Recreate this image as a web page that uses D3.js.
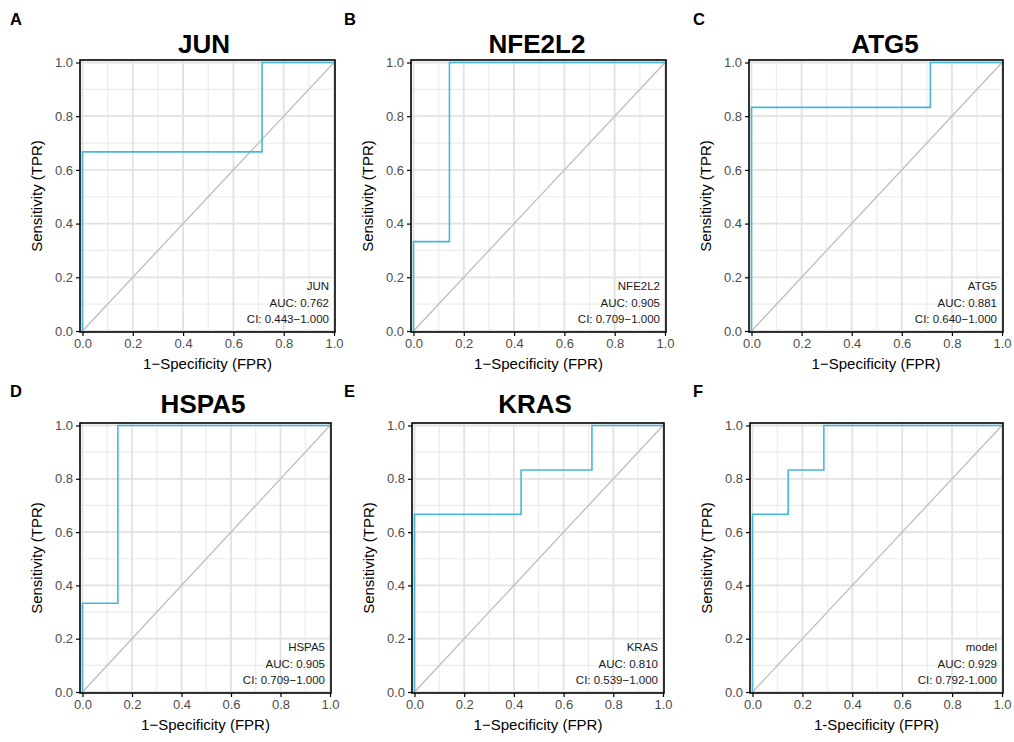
<!DOCTYPE html>
<html>
<head>
<meta charset="utf-8">
<script src="https://cdn.jsdelivr.net/npm/d3@7"></script>
<style>
  body { margin: 0; background: #fff; }
  svg { font-family: "Liberation Sans", Arial, sans-serif; }
  .grid-major { stroke: #e2e2e2; stroke-width: 1.8; }
  .grid-minor { stroke: #ececec; stroke-width: 1.2; }
  .roc { fill: none; stroke: #45b8da; stroke-width: 1.6; }
  .diag { stroke: #bdbdbd; stroke-width: 1.3; }
  .axis text { font-size: 13px; fill: #4d4d4d; }
  .axis path, .axis line { stroke: #000; stroke-width: 1.2; }
</style>
</head>
<body>
<svg id="graph" width="1014" height="742"></svg>
<script>
// panel names, letters, ROC points, AUC text
var letters = ["A", "B", "C", "D", "E", "F"]
var titles = ["JUN", "NFE2L2", "ATG5", "HSPA5", "KRAS", ""]
var legendNames = ["JUN", "NFE2L2", "ATG5", "HSPA5", "KRAS", "model"]
var aucs = ["0.762", "0.905", "0.881", "0.905", "0.810", "0.929"]
var cis = ["0.443\u22121.000", "0.709\u22121.000", "0.640\u22121.000", "0.709\u22121.000", "0.539\u22121.000", "0.792-1.000"]
var xTitles = ["1\u2212Specificity (FPR)", "1\u2212Specificity (FPR)", "1\u2212Specificity (FPR)",
               "1\u2212Specificity (FPR)", "1\u2212Specificity (FPR)", "1-Specificity (FPR)"]

var fprJUN = [0, 0, 0.714, 0.714, 1]
var tprJUN = [0, 0.667, 0.667, 1, 1]
var fprNFE2L2 = [0, 0, 0.143, 0.143, 1]
var tprNFE2L2 = [0, 0.333, 0.333, 1, 1]
var fprATG5 = [0, 0, 0.714, 0.714, 1]
var tprATG5 = [0, 0.833, 0.833, 1, 1]
var fprHSPA5 = [0, 0, 0.143, 0.143, 1]
var tprHSPA5 = [0, 0.333, 0.333, 1, 1]
var fprKRAS = [0, 0, 0.429, 0.429, 0.714, 0.714, 1]
var tprKRAS = [0, 0.667, 0.667, 0.833, 0.833, 1, 1]
var fprModel = [0, 0, 0.143, 0.143, 0.286, 0.286, 1]
var tprModel = [0, 0.667, 0.667, 0.833, 0.833, 1, 1]

var fprs = [fprJUN, fprNFE2L2, fprATG5, fprHSPA5, fprKRAS, fprModel]
var tprs = [tprJUN, tprNFE2L2, tprATG5, tprHSPA5, tprKRAS, tprModel]

var ticks = [0, 0.2, 0.4, 0.6, 0.8, 1.0]
var minorTicks = [0.1, 0.3, 0.5, 0.7, 0.9]

// panel frames (border boxes) and label / title positions
var frames = [
    { x0: 80, x1: 335, y0: 60, y1: 332, lx: 10, ly: 25, tx: 204, ty: 53 },
    { x0: 411, x1: 666, y0: 60, y1: 332, lx: 344, ly: 25, tx: 537, ty: 53 },
    { x0: 749, x1: 1003, y0: 60, y1: 332, lx: 693, ly: 25, tx: 885, ty: 53 },
    { x0: 80, x1: 331, y0: 423, y1: 693, lx: 10, ly: 397, tx: 203, ty: 413 },
    { x0: 412, x1: 664, y0: 423, y1: 693, lx: 344, ly: 397, tx: 535, ty: 413 },
    { x0: 750, x1: 1003, y0: 423, y1: 693, lx: 693, ly: 397, tx: 877, ty: 413 }
]
var pad = 2.5

var svg = d3.select("#graph")

frames.forEach((f, i) => {
    var xScale = d3.scaleLinear().domain([0, 1]).range([f.x0 + pad, f.x1 - 1])
    var yScale = d3.scaleLinear().domain([0, 1]).range([f.y1 - 1, f.y0 + pad])
    var g = svg.append("g")

    // grid
    g.selectAll(".vminor").data(minorTicks).enter().append("line")
        .attr("class", "grid-minor")
        .attr("x1", d => xScale(d)).attr("x2", d => xScale(d))
        .attr("y1", f.y0).attr("y2", f.y1)
    g.selectAll(".hminor").data(minorTicks).enter().append("line")
        .attr("class", "grid-minor")
        .attr("y1", d => yScale(d)).attr("y2", d => yScale(d))
        .attr("x1", f.x0).attr("x2", f.x1)
    g.selectAll(".vmajor").data(ticks).enter().append("line")
        .attr("class", "grid-major")
        .attr("x1", d => xScale(d)).attr("x2", d => xScale(d))
        .attr("y1", f.y0).attr("y2", f.y1)
    g.selectAll(".hmajor").data(ticks).enter().append("line")
        .attr("class", "grid-major")
        .attr("y1", d => yScale(d)).attr("y2", d => yScale(d))
        .attr("x1", f.x0).attr("x2", f.x1)

    // diagonal reference
    g.append("line")
        .attr("class", "diag")
        .attr("x1", xScale(0)).attr("y1", yScale(0))
        .attr("x2", xScale(1)).attr("y2", yScale(1))

    // roc curve
    var pts = fprs[i].map((v, k) => ({ x: v, y: tprs[i][k] }))
    var line = d3.line().x(d => xScale(d.x)).y(d => yScale(d.y))
    g.append("path").datum(pts).attr("class", "roc").attr("d", line)

    // border
    g.append("rect")
        .attr("x", f.x0).attr("y", f.y0)
        .attr("width", f.x1 - f.x0).attr("height", f.y1 - f.y0)
        .attr("fill", "none").attr("stroke", "#000").attr("stroke-width", 1.6)

    // axes
    g.append("g")
        .attr("class", "axis")
        .attr("transform", "translate(0," + f.y1 + ")")
        .call(d3.axisBottom(xScale).tickValues(ticks).tickFormat(d3.format(".1f")).tickSize(4).tickPadding(3))
        .call(a => a.select(".domain").remove())
    g.append("g")
        .attr("class", "axis")
        .attr("transform", "translate(" + f.x0 + ",0)")
        .call(d3.axisLeft(yScale).tickValues(ticks).tickFormat(d3.format(".1f")).tickSize(4).tickPadding(3))
        .call(a => a.select(".domain").remove())

    // axis titles
    var cx = (f.x0 + f.x1) / 2
    var cy = (f.y0 + f.y1) / 2
    g.append("text")
        .attr("x", cx).attr("y", f.y1 + 37)
        .attr("text-anchor", "middle")
        .attr("font-size", 15).attr("fill", "#000")
        .text(xTitles[i])
    g.append("text")
        .attr("transform", "translate(" + (f.x0 - 38) + "," + cy + ") rotate(-90)")
        .attr("text-anchor", "middle")
        .attr("font-size", 15).attr("fill", "#000")
        .text("Sensitivity (TPR)")

    // legend text
    var legend = [legendNames[i], "AUC: " + aucs[i], "CI: " + cis[i]]
    g.selectAll(".leg").data(legend).enter().append("text")
        .attr("x", f.x1 - 6)
        .attr("y", (d, k) => f.y1 - 42 + k * 16.5)
        .attr("text-anchor", "end")
        .attr("font-size", 11.5).attr("fill", "#1a1a1a")
        .text(d => d)

    // title and panel letter
    if (titles[i])
        g.append("text")
            .attr("x", f.tx).attr("y", f.ty)
            .attr("text-anchor", "middle")
            .attr("font-size", 26).attr("font-weight", "bold").attr("fill", "#000")
            .text(titles[i])
    g.append("text")
        .attr("x", f.lx).attr("y", f.ly)
        .attr("font-size", 16.5).attr("font-weight", "bold").attr("fill", "#000")
        .text(letters[i])
})
</script>
</body>
</html>
